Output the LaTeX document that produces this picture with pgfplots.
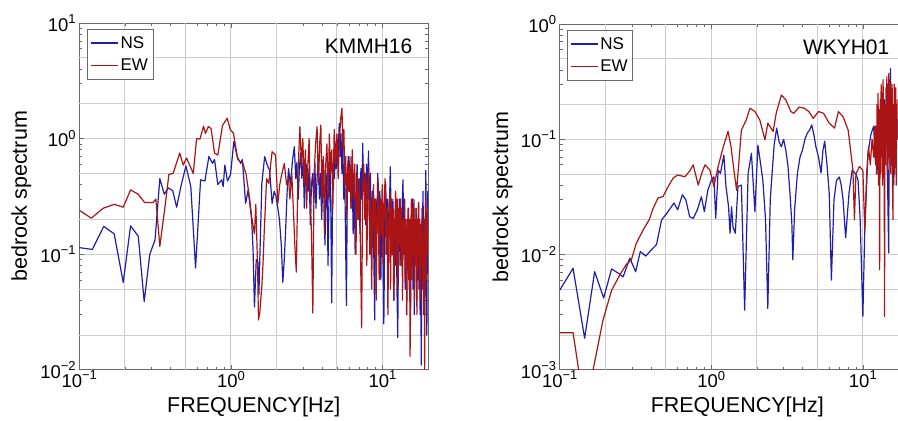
\documentclass[border=0pt]{standalone}
\usepackage{fontspec}
\setmainfont{Liberation Sans}
\usepackage{pgfplots}
\pgfplotsset{compat=1.18}
\definecolor{nsblue}{RGB}{30,30,170}
\definecolor{ewred}{RGB}{170,20,20}
\definecolor{framegray}{RGB}{105,105,105}
\definecolor{gridgray}{RGB}{205,205,205}
\newcommand{\tp}[1]{10\raisebox{0.42em}{\fontsize{13}{13}\selectfont #1}}
\begin{document}
\begin{tikzpicture}
\path (0,0) rectangle (898pt,418pt);
% ---------------- left panel ----------------
\begin{axis}[
  scale only axis, xmode=log, ymode=log, xmin=0.1, xmax=20,
  at={(79.3pt,48pt)}, anchor=south west, width=349.1pt, height=347pt,
  ymin=0.01, ymax=10,
  axis line style={framegray, line width=0.9pt},
  tick style={framegray, line width=0.7pt},
  tick align=inside,
  major tick length=5pt, minor tick length=3pt,
  grid=major, major grid style={gridgray, line width=0.9pt},
  xtick={0.1,1,10}, xticklabels={\tp{−1},\tp{0},\tp{1}},
  minor xtick={0.2,0.3,0.4,0.5,0.6,0.7,0.8,0.9,2,3,4,5,6,7,8,9,20},
  extra x ticks={0.2,0.5,2,5}, extra x tick labels={},
  extra x tick style={grid=major, major tick length=0pt},
  ytick={0.01,0.1,1,10}, yticklabels={\tp{−2},\tp{−1},\tp{0},\tp{1}},
  minor ytick={0.02,0.03,0.04,0.05,0.06,0.07,0.08,0.09,0.2,0.3,0.4,0.5,0.6,0.7,0.8,0.9,2,3,4,5,6,7,8,9},
  extra y ticks={0.02,0.05,0.2,0.5,2,5}, extra y tick labels={},
  extra y tick style={grid=major, major tick length=0pt},
  tick label style={font=\fontsize{18.5}{18.5}\selectfont},
  xticklabel style={inner ysep=1pt},
  xlabel={FREQUENCY[Hz]}, ylabel={bedrock spectrum},
  xlabel style={font=\fontsize{21.5}{22}\selectfont, at={(axis description cs:0.5,-0.124)}, anchor=base},
  ylabel style={font=\fontsize{21.5}{22}\selectfont, at={(axis description cs:-0.150,0.5)}, anchor=base},
  legend style={at={(axis description cs:0.0192,0.9856)}, anchor=north west, draw=framegray, line width=0.8pt, fill=white,
      font=\fontsize{17}{17}\selectfont, inner xsep=3pt, inner ysep=5pt, row sep=5pt, xshift=1pt, yshift=-1pt},
  legend cell align=left,
  legend image code/.code={\draw[#1, line width=1.3pt] (0pt,0pt) -- (27pt,0pt);},
]
\addplot[nsblue, line width=1.2pt, line join=round] coordinates {
(0.1,0.114) (0.122,0.11) (0.145,0.174) (0.17,0.15) (0.195,0.057) (0.218,0.176) (0.245,0.143) (0.268,0.039)
(0.292,0.10) (0.316,0.133) (0.34,0.45) (0.364,0.33) (0.386,0.375) (0.413,0.356) (0.439,0.255) (0.468,0.385)
(0.505,0.58) (0.544,0.385) (0.585,0.076) (0.631,0.44) (0.674,0.43) (0.716,0.70) (0.757,0.61) (0.78,0.66)
(0.82,0.40) (0.87,0.44) (0.89,0.385) (0.912,0.59) (0.95,0.43) (0.995,0.49) (1.045,0.94) (1.1,0.70)
(1.16,0.61) (1.19,0.66) (1.25,0.275) (1.30,0.36) (1.37,0.20) (1.40,0.11) (1.43,0.035) (1.47,0.09)
(1.51,0.085) (1.53,0.045) (1.56,0.12) (1.6,0.41) (1.67,0.70) (1.73,0.60) (1.8,0.53) (1.87,0.275)
(1.93,0.35) (1.98,0.32) (2.04,0.25) (2.09,0.20) (2.15,0.12) (2.2,0.057) (2.25,0.09) (2.29,0.15)
(2.35,0.35) (2.4,0.55) (2.47,0.40) (2.55,0.65) (2.62,0.85) (2.68,0.45) (2.72,0.62) (2.78,0.30)
(2.83,0.55) (2.88,0.75) (2.94,0.45) (3.0,0.65) (3.05,0.25) (3.1,0.45) (3.16,0.60) (3.22,0.35)
(3.28,0.55) (3.34,0.18) (3.4,0.40) (3.46,0.50) (3.52,0.28) (3.58,0.62) (3.64,0.25) (3.7,0.45)
(3.77,0.70) (3.84,0.30) (3.9,0.50) (3.97,0.20) (4.04,0.45) (4.1,0.60) (4.17,0.12) (4.24,0.35)
(4.3,0.50) (4.37,0.08) (4.44,0.35) (4.5,0.60) (4.56,0.25) (4.62,0.038) (4.68,0.30) (4.75,0.80)
(4.82,0.45) (4.88,0.90) (4.95,0.55) (5.02,1.0) (5.1,0.75) (5.18,1.35) (5.25,0.70) (5.32,1.10)
(5.4,0.50) (5.47,0.90) (5.55,0.30) (5.62,0.60) (5.7,0.15) (5.78,0.036) (5.86,0.40) (5.94,0.70)
(6.02,0.35) (6.1,0.50) (6.2,0.25) (6.3,0.70) (6.4,0.15) (6.5,0.50) (6.6,0.10) (6.7,0.35)
(6.8,0.60) (6.9,0.20) (7.0,0.45) (7.1,0.15) (7.2,0.55) (7.3,0.30) (7.4,0.91) (7.5,0.35)
(7.6,0.50) (7.72,0.18) (7.85,0.60) (7.95,0.30) (8.08,0.78) (8.2,0.20) (8.32,0.50) (8.45,0.10)
(8.58,0.35) (8.72,0.15) (8.88,0.027) (9.0,0.30) (9.15,0.15) (9.3,0.50) (9.45,0.10) (9.6,0.35)
(9.75,0.06) (9.9,0.30) (10.05,0.12) (10.2,0.025) (10.35,0.20) (10.5,0.40) (10.65,0.15) (10.8,0.30)
(10.95,0.08) (11.1,0.25) (11.25,0.57) (11.4,0.20) (11.55,0.10) (11.7,0.30) (11.85,0.04) (12.0,0.20)
(12.15,0.08) (12.3,0.25) (12.45,0.05) (12.6,0.019) (12.75,0.15) (12.9,0.30) (13.05,0.08) (13.2,0.20)
(13.35,0.12) (13.5,0.30) (13.65,0.44) (13.8,0.10) (13.95,0.25) (14.1,0.05) (14.25,0.20) (14.4,0.03)
(14.55,0.15) (14.7,0.08) (14.85,0.25) (15.0,0.05) (15.15,0.15) (15.3,0.024) (15.45,0.20) (15.6,0.10)
(15.75,0.30) (15.9,0.05) (16.05,0.20) (16.2,0.03) (16.35,0.25) (16.5,0.08) (16.65,0.18) (16.8,0.04)
(16.95,0.20) (17.1,0.06) (17.25,0.28) (17.4,0.05) (17.55,0.15) (17.7,0.03) (17.85,0.10) (18.0,0.011)
(18.15,0.08) (18.3,0.15) (18.5,0.35) (18.7,0.05) (18.85,0.12) (19.0,0.03) (19.15,0.20) (19.3,0.53)
(19.45,0.10) (19.6,0.02) (19.75,0.15) (19.9,0.35) (20.0,0.30)
};
\addlegendentry{NS}
\addplot[ewred, line width=1.2pt, line join=round] coordinates {
(0.1,0.24) (0.12,0.205) (0.144,0.25) (0.17,0.27) (0.195,0.255) (0.218,0.36) (0.245,0.33) (0.27,0.28)
(0.307,0.28) (0.32,0.30) (0.34,0.117) (0.37,0.275) (0.39,0.49) (0.416,0.50) (0.46,0.75) (0.485,0.59)
(0.51,0.68) (0.565,0.50) (0.594,1.0) (0.625,0.99) (0.66,1.28) (0.68,1.11) (0.71,1.27) (0.74,1.22)
(0.78,0.75) (0.82,0.72) (0.88,1.3) (0.945,1.5) (0.99,1.2) (1.04,1.11) (1.11,0.66) (1.2,0.61)
(1.26,0.49) (1.33,0.30) (1.37,0.21) (1.43,0.15) (1.46,0.27) (1.5,0.078) (1.52,0.027) (1.55,0.031)
(1.6,0.053) (1.63,0.085) (1.66,0.16) (1.72,0.45) (1.78,0.41) (1.83,0.60) (1.87,0.77) (1.97,0.72)
(2.04,0.275) (2.1,0.40) (2.15,0.47) (2.25,0.61) (2.33,0.40) (2.4,0.45) (2.45,0.30) (2.52,0.50)
(2.58,0.25) (2.64,0.12) (2.7,0.07) (2.77,0.50) (2.85,1.27) (2.92,0.60) (2.98,1.0) (3.04,0.40)
(3.1,0.80) (3.16,0.25) (3.22,0.60) (3.28,1.0) (3.34,0.30) (3.4,0.15) (3.47,0.031) (3.54,0.50)
(3.62,0.90) (3.7,1.27) (3.78,0.40) (3.85,0.90) (3.92,1.31) (3.99,0.30) (4.06,0.70) (4.14,0.15)
(4.22,0.60) (4.3,0.90) (4.38,0.30) (4.46,1.1) (4.54,0.50) (4.62,0.80) (4.7,0.25) (4.8,1.2)
(4.9,0.60) (5.0,1.1) (5.1,0.45) (5.2,1.0) (5.3,1.50) (5.4,1.83) (5.48,0.80) (5.56,1.20)
(5.64,0.40) (5.72,0.70) (5.8,0.20) (5.9,0.60) (6.0,0.35) (6.1,0.70) (6.2,0.25) (6.32,0.80)
(6.44,0.30) (6.56,0.60) (6.68,0.10) (6.8,0.50) (6.92,0.20) (7.04,0.45) (7.16,0.10) (7.28,0.023)
(7.4,0.40) (7.52,0.60) (7.64,0.20) (7.76,0.50) (7.88,0.08) (8.0,0.40) (8.12,0.55) (8.24,0.10)
(8.36,0.30) (8.48,0.05) (8.6,0.25) (8.72,0.40) (8.84,0.10) (8.96,0.30) (9.08,0.04) (9.2,0.20)
(9.35,0.45) (9.5,0.06) (9.65,0.30) (9.8,0.15) (9.95,0.40) (10.1,0.08) (10.25,0.30) (10.4,0.45)
(10.55,0.10) (10.7,0.25) (10.85,0.03) (11.0,0.20) (11.15,0.35) (11.3,0.05) (11.45,0.30) (11.6,0.10)
(11.75,0.25) (11.9,0.04) (12.05,0.20) (12.2,0.35) (12.35,0.08) (12.5,0.30) (12.65,0.05) (12.8,0.25)
(12.95,0.12) (13.1,0.30) (13.25,0.08) (13.4,0.25) (13.55,0.04) (13.7,0.20) (13.85,0.10) (14.0,0.30)
(14.15,0.06) (14.3,0.20) (14.45,0.03) (14.6,0.15) (14.75,0.25) (14.9,0.06) (15.05,0.20) (15.2,0.013)
(15.35,0.15) (15.5,0.30) (15.65,0.06) (15.8,0.25) (15.95,0.10) (16.1,0.30) (16.25,0.04) (16.4,0.20)
(16.55,0.08) (16.7,0.25) (16.85,0.03) (17.0,0.20) (17.15,0.10) (17.3,0.28) (17.45,0.06) (17.6,0.20)
(17.75,0.04) (17.9,0.18) (18.05,0.08) (18.2,0.25) (18.35,0.05) (18.5,0.15) (18.65,0.03) (18.8,0.20)
(18.95,0.01) (19.1,0.15) (19.25,0.30) (19.4,0.06) (19.55,0.20) (19.7,0.10) (19.85,0.25) (20.0,0.12)
};
\addlegendentry{EW}
\node[anchor=base east, font=\fontsize{21}{21}\selectfont] at (rel axis cs:0.9645,0.9107) {KMMH16};
\end{axis}
% ---------------- right panel ----------------
\begin{axis}[
  scale only axis, xmode=log, ymode=log, xmin=0.1, xmax=16.94,
  at={(560pt,48pt)}, anchor=south west, width=338pt, height=346pt,
  ymin=0.001, ymax=1,
  axis y line*=left, y axis line style={-},
  axis line style={framegray, line width=0.9pt},
  tick style={framegray, line width=0.7pt},
  tick align=inside,
  major tick length=5pt, minor tick length=3pt,
  grid=major, major grid style={gridgray, line width=0.9pt},
  xtick={0.1,1,10}, xticklabels={\tp{−1},\tp{0},\tp{1}},
  minor xtick={0.2,0.3,0.4,0.5,0.6,0.7,0.8,0.9,2,3,4,5,6,7,8,9},
  extra x ticks={0.2,0.5,2,5}, extra x tick labels={},
  extra x tick style={grid=major, major tick length=0pt},
  ytick={0.001,0.01,0.1,1}, yticklabels={\tp{−3},\tp{−2},\tp{−1},\tp{0}},
  minor ytick={0.002,0.003,0.004,0.005,0.006,0.007,0.008,0.009,0.02,0.03,0.04,0.05,0.06,0.07,0.08,0.09,0.2,0.3,0.4,0.5,0.6,0.7,0.8,0.9},
  extra y ticks={0.002,0.005,0.02,0.05,0.2,0.5}, extra y tick labels={},
  extra y tick style={grid=major, major tick length=0pt},
  tick label style={font=\fontsize{18.5}{18.5}\selectfont},
  xticklabel style={inner ysep=1pt},
  xlabel={FREQUENCY[Hz]}, ylabel={bedrock spectrum},
  xlabel style={font=\fontsize{21.5}{22}\selectfont, at={(axis description cs:0.5257,-0.124)}, anchor=base},
  ylabel style={font=\fontsize{21.5}{22}\selectfont, at={(axis description cs:-0.1527,0.5)}, anchor=base},
  legend style={at={(axis description cs:0.0178,0.9855)}, anchor=north west, draw=framegray, line width=0.8pt, fill=white,
      font=\fontsize{17}{17}\selectfont, inner xsep=3pt, inner ysep=5pt, row sep=5pt, xshift=1pt, yshift=-1pt},
  legend cell align=left,
  legend image code/.code={\draw[#1, line width=1.3pt] (0pt,0pt) -- (27pt,0pt);},
]
\addplot[nsblue, line width=1.2pt, line join=round] coordinates {
(0.1,0.0049) (0.1225,0.0076) (0.146,0.00188) (0.17,0.0071) (0.195,0.0042) (0.22,0.0075) (0.243,0.0069) (0.262,0.0064)
(0.29,0.0093) (0.317,0.0071) (0.34,0.0106) (0.37,0.0097) (0.40,0.0109) (0.435,0.0122) (0.47,0.020) (0.505,0.0225)
(0.545,0.0259) (0.567,0.028) (0.60,0.0245) (0.645,0.033) (0.68,0.0297) (0.72,0.0213) (0.76,0.0206) (0.81,0.0245)
(0.86,0.0317) (0.90,0.0236) (0.95,0.0363) (1.0,0.044) (1.04,0.0473) (1.07,0.0206) (1.11,0.054) (1.15,0.0506)
(1.21,0.073) (1.25,0.039) (1.30,0.026) (1.33,0.0153) (1.36,0.026) (1.39,0.0174) (1.44,0.0153) (1.50,0.039)
(1.58,0.040) (1.66,0.0033) (1.75,0.0506) (1.84,0.0756) (1.94,0.0236) (2.03,0.089) (2.12,0.06) (2.19,0.044)
(2.28,0.02) (2.36,0.0034) (2.45,0.03) (2.5,0.044) (2.6,0.09) (2.7,0.125) (2.8,0.095) (2.9,0.086)
(3.0,0.10) (3.1,0.081) (3.2,0.06) (3.3,0.035) (3.4,0.0187) (3.45,0.009) (3.55,0.025) (3.7,0.0506)
(3.85,0.07) (4.0,0.081) (4.15,0.10) (4.3,0.113) (4.45,0.12) (4.6,0.133) (4.75,0.11) (4.9,0.086)
(5.1,0.07) (5.3,0.051) (5.45,0.08) (5.6,0.096) (5.8,0.06) (6.0,0.034) (6.2,0.006) (6.45,0.03)
(6.7,0.044) (7.0,0.047) (7.2,0.04) (7.4,0.03) (7.7,0.014) (8.1,0.034) (8.5,0.054) (9.0,0.05)
(9.3,0.044) (9.6,0.02) (10.0,0.0029) (10.3,0.017) (10.8,0.075) (11.3,0.11) (11.8,0.13) (12.0,0.07)
(12.2,0.12) (12.4,0.05) (12.6,0.10) (12.8,0.04) (13.0,0.12) (13.2,0.08) (13.5,0.20) (13.7,0.12)
(13.9,0.22) (14.1,0.09) (14.3,0.18) (14.5,0.06) (14.8,0.0103) (14.95,0.15) (15.2,0.41) (15.4,0.15)
(15.6,0.06) (15.8,0.20) (16.0,0.04) (16.2,0.15) (16.4,0.08) (16.6,0.20) (16.8,0.10) (17.0,0.15)
};
\addlegendentry{NS}
\addplot[ewred, line width=1.2pt, line join=round] coordinates {
(0.1,0.0021) (0.1225,0.0021) (0.135,0.0009) (0.15,0.0006) (0.166,0.001) (0.18,0.0017) (0.193,0.0027) (0.22,0.0049)
(0.25,0.0067) (0.275,0.0082) (0.297,0.0090) (0.32,0.0125) (0.355,0.0163) (0.39,0.0201) (0.41,0.0245) (0.445,0.031)
(0.48,0.0318) (0.52,0.039) (0.56,0.046) (0.60,0.049) (0.67,0.0473) (0.72,0.053) (0.76,0.060) (0.82,0.040)
(0.87,0.052) (0.91,0.060) (0.98,0.054) (1.04,0.039) (1.11,0.058) (1.2,0.086) (1.29,0.117) (1.35,0.086)
(1.41,0.054) (1.47,0.036) (1.58,0.12) (1.7,0.147) (1.8,0.186) (1.94,0.174) (2.09,0.147) (2.26,0.099)
(2.36,0.138) (2.56,0.117) (2.68,0.168) (2.9,0.242) (3.1,0.22) (3.35,0.174) (3.5,0.168) (3.8,0.19)
(4.1,0.186) (4.4,0.174) (4.7,0.152) (5.1,0.174) (5.5,0.168) (6.0,0.138) (6.5,0.125) (6.9,0.174)
(7.4,0.157) (8.0,0.12) (8.3,0.08) (8.6,0.054) (8.8,0.020) (9.0,0.05) (9.5,0.058) (10.0,0.054)
(10.3,0.016) (10.6,0.05) (10.9,0.086) (11.2,0.06) (11.5,0.10) (11.8,0.07) (12.0,0.13) (12.1,0.06)
(12.2,0.13) (12.3,0.05) (12.4,0.20) (12.5,0.06) (12.6,0.25) (12.7,0.04) (12.8,0.18) (12.9,0.0074)
(13.0,0.22) (13.1,0.05) (13.2,0.30) (13.3,0.07) (13.4,0.25) (13.5,0.04) (13.6,0.33) (13.7,0.08)
(13.8,0.20) (13.9,0.0029) (14.0,0.20) (14.1,0.06) (14.2,0.28) (14.3,0.09) (14.4,0.35) (14.5,0.05)
(14.6,0.30) (14.7,0.10) (14.8,0.37) (14.9,0.06) (15.0,0.33) (15.1,0.08) (15.2,0.30) (15.3,0.05)
(15.4,0.25) (15.5,0.10) (15.6,0.30) (15.7,0.04) (15.8,0.02) (15.9,0.20) (16.0,0.07) (16.1,0.30)
(16.2,0.05) (16.3,0.25) (16.4,0.08) (16.5,0.28) (16.6,0.04) (16.7,0.20) (16.8,0.10) (16.9,0.22) (17.0,0.13)
};
\addlegendentry{EW}
\node[anchor=base east, font=\fontsize{21}{21}\selectfont] at (rel axis cs:0.9861,0.913) {WKYH01};
\end{axis}
\end{tikzpicture}
\end{document}
